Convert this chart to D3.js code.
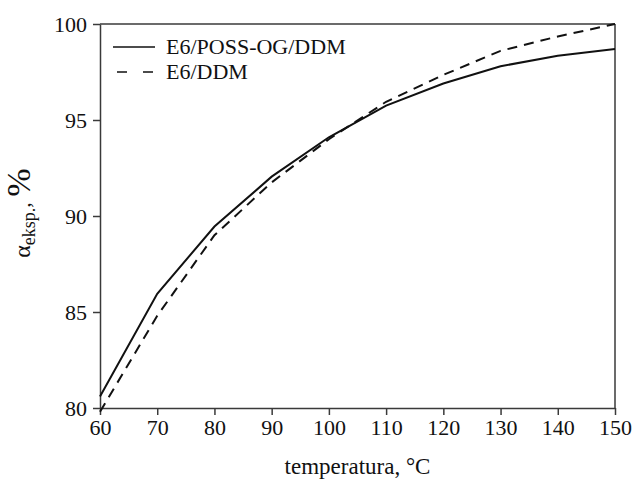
<!DOCTYPE html>
<html>
<head>
<meta charset="utf-8">
<style>
body { margin: 0; background: #fff; }
svg { display: block; }
svg text { font-family: "Liberation Serif", "Times New Roman", serif; }
</style>
</head>
<body>
<svg width="634" height="479"></svg>
<script src="https://d3js.org/d3.v7.min.js"></script>
<script>

var temps = [60, 70, 80, 90, 100, 110, 120, 130, 140, 150];
var possValues = [80.6, 85.95, 89.45, 92.05, 94.1, 95.75, 96.9, 97.8, 98.35, 98.7];
var ddmValues = [79.8, 84.8, 89.0, 91.75, 94.0, 95.95, 97.35, 98.6, 99.35, 100.0];
var seriesNames = ["E6/POSS-OG/DDM", "E6/DDM"];
var xTicks = [60, 70, 80, 90, 100, 110, 120, 130, 140, 150];
var yTicks = [80, 85, 90, 95, 100];

var serif = "Liberation Serif, Times New Roman, serif";
var svg = d3.select("svg").attr("font-family", serif);
var margin = {left: 100, right: 19, top: 24, bottom: 71};
var width = 634 - margin.left - margin.right,
    height = 479 - margin.top - margin.bottom;
var axisColor = "#3a3a3a";

var x = d3.scaleLinear().domain([60, 150]).range([0, width]);
var y = d3.scaleLinear().domain([80, 100]).range([height, 0]);

var g = svg.append("g").attr("transform", "translate(" + margin.left + "," + margin.top + ")");

// frame top and right
g.append("line").attr("x1", 0).attr("x2", width).attr("y1", 0).attr("y2", 0)
  .attr("stroke", axisColor).attr("stroke-width", 1.5);
g.append("line").attr("x1", width).attr("x2", width).attr("y1", 0).attr("y2", height)
  .attr("stroke", axisColor).attr("stroke-width", 1.5);

var xAxis = g.append("g").attr("transform", "translate(0," + height + ")")
  .call(d3.axisBottom(x).tickValues(xTicks).tickSize(7).tickPadding(4).tickSizeOuter(0));
var yAxis = g.append("g")
  .call(d3.axisLeft(y).tickValues(yTicks).tickSize(7).tickPadding(6).tickSizeOuter(0));

[xAxis, yAxis].forEach(function(a) {
  a.attr("font-family", serif).attr("font-size", 22);
  a.select(".domain").attr("stroke", axisColor).attr("stroke-width", 1.5);
  a.selectAll(".tick line").attr("stroke", axisColor).attr("stroke-width", 1.5);
  a.selectAll(".tick text").attr("fill", "#111");
});

var line = d3.line()
  .x(function(d, i) { return x(temps[i]); })
  .y(function(d) { return y(d); });

g.append("path").datum(possValues).attr("d", line)
  .attr("fill", "none").attr("stroke", "#111").attr("stroke-width", 2);
g.append("path").datum(ddmValues).attr("d", line)
  .attr("fill", "none").attr("stroke", "#111").attr("stroke-width", 2)
  .attr("stroke-dasharray", "10,7");

// legend
var legend = g.append("g").attr("transform", "translate(13,23)");
legend.append("line").attr("x1", 0).attr("x2", 42).attr("y1", 0).attr("y2", 0)
  .attr("stroke", "#111").attr("stroke-width", 1.5);
legend.append("line").attr("x1", 4).attr("x2", 42).attr("y1", 25).attr("y2", 25)
  .attr("stroke", "#111").attr("stroke-width", 1.5).attr("stroke-dasharray", "10,16");
legend.selectAll("text.leg").data(seriesNames).enter().append("text")
  .attr("class", "leg")
  .attr("x", 53).attr("y", function(d, i) { return i * 25 + 7; })
  .attr("fill", "#111").attr("font-size", 22)
  .text(function(d) { return d; });

// axis titles
svg.append("text")
  .attr("x", margin.left + width / 2).attr("y", 474)
  .attr("text-anchor", "middle").attr("fill", "#111").attr("font-size", 23)
  .text("temperatura, °C");

var yl = svg.append("text")
  .attr("transform", "translate(30,213) rotate(-90)")
  .attr("text-anchor", "middle").attr("fill", "#111").attr("font-size", 24);
yl.append("tspan").text("α");
yl.append("tspan").attr("dy", 5).attr("font-size", 18).text("eksp.");
yl.append("tspan").attr("dy", -5).attr("font-size", 22).text(", ");
yl.append("tspan").attr("font-size", 34).text("%");

</script>
</body>
</html>
